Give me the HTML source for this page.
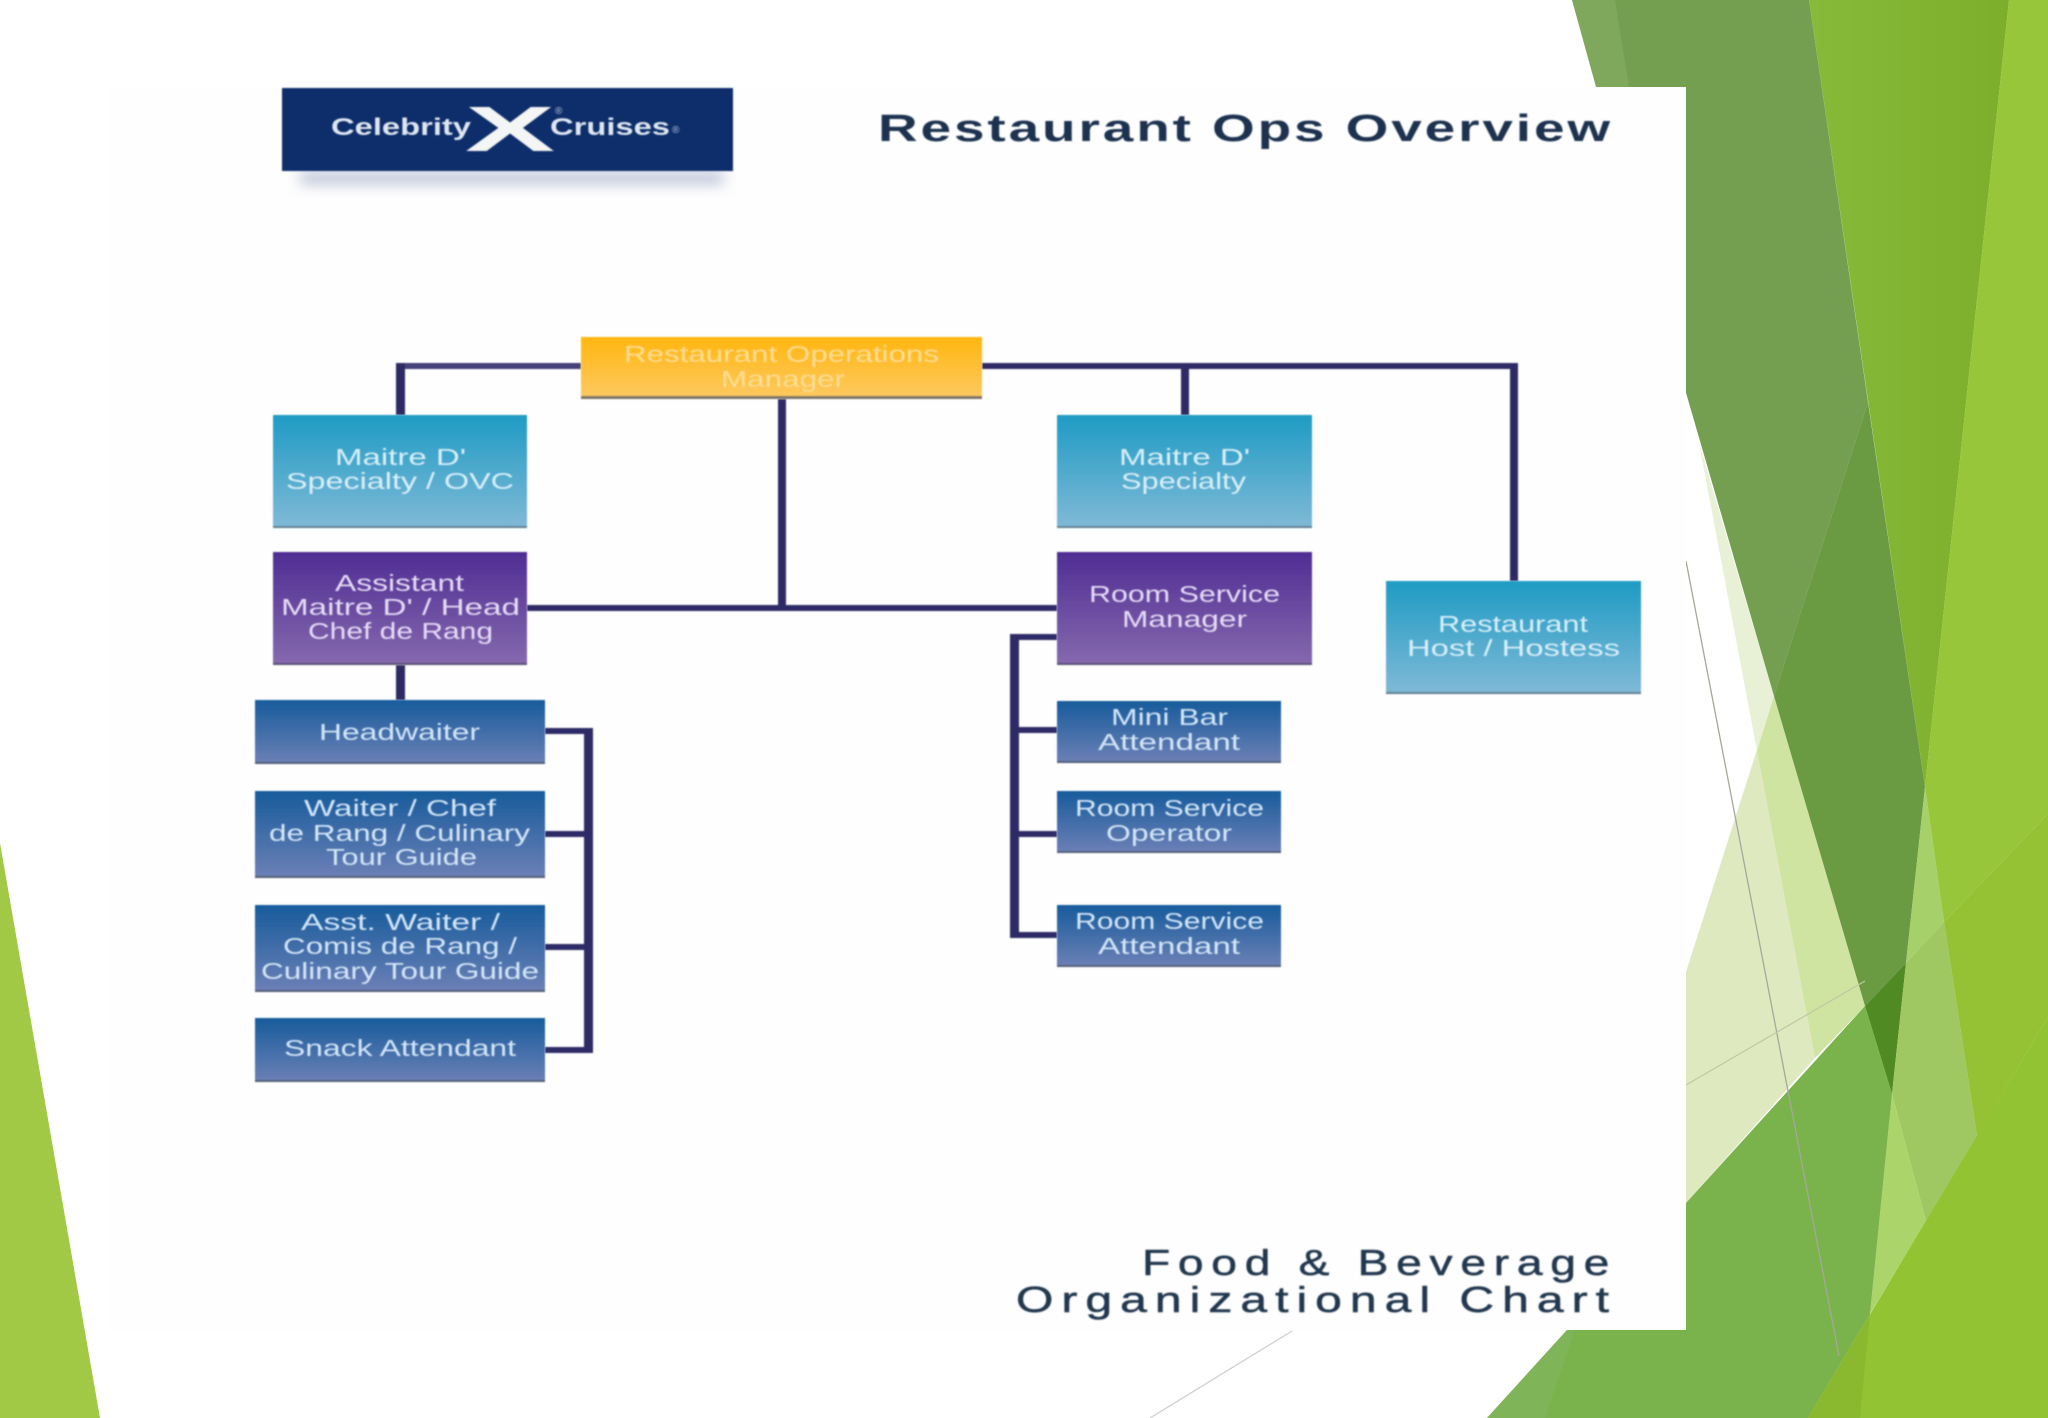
<!DOCTYPE html>
<html lang="en">
<head>
<meta charset="utf-8">
<title>Restaurant Ops Overview</title>
<style>
html,body{margin:0;padding:0;background:#fff;width:2048px;height:1418px;overflow:hidden}
svg{display:block}
text{font-family:"Liberation Sans",sans-serif;text-anchor:start}
.t{font-size:23px}
.teal{fill:#d8eff9}
.pur{fill:#e6dcf6}
.blu{fill:#d3e6f8}
.org{fill:#fedd94}
.h{font-weight:bold;fill:#1f3350;letter-spacing:2px}
.f{fill:#22384f;stroke:#22384f;stroke-width:.5px;letter-spacing:6px}
</style>
</head>
<body>
<svg xmlns="http://www.w3.org/2000/svg" width="2048" height="1418" viewBox="0 0 2048 1418">
<defs>
<linearGradient id="gt" x1="0" y1="0" x2="0" y2="1"><stop offset="0" stop-color="#1e9bc3"/><stop offset="1" stop-color="#80b9d7"/></linearGradient>
<linearGradient id="gp" x1="0" y1="0" x2="0" y2="1"><stop offset="0" stop-color="#4f2d93"/><stop offset="1" stop-color="#8569ae"/></linearGradient>
<linearGradient id="gb" x1="0" y1="0" x2="0" y2="1"><stop offset="0" stop-color="#175b9b"/><stop offset="1" stop-color="#6c80b6"/></linearGradient>
<linearGradient id="go" x1="0" y1="0" x2="0" y2="1"><stop offset="0" stop-color="#ffb60f"/><stop offset="1" stop-color="#fdc962"/></linearGradient>
<linearGradient id="gg" x1="0" y1="0" x2="1" y2="0"><stop offset="0" stop-color="#87ba3a"/><stop offset="1" stop-color="#7dae2b"/></linearGradient>
<filter id="b1" x="-5%" y="-5%" width="110%" height="110%"><feGaussianBlur stdDeviation="0.7"/></filter>
<filter id="b6" x="-10%" y="-150%" width="120%" height="400%"><feGaussianBlur stdDeviation="7"/></filter>
</defs>

<rect width="2048" height="1418" fill="#fff"/>

<!-- left wedge -->
<polygon points="0,843 100,1418 0,1418" fill="#a2c946"/>

<!-- background facets -->
<polygon points="1686,972 1757,751 1815,1058 1686,1203" fill="#dfe9c0"/>
<polygon points="1686,972 1774,696 1757,751" fill="#dfe9c0"/>
<polygon points="1699,443 1774,696 1757,751" fill="#e8f1d6"/>
<polygon points="1757,751 1774,696 1865,1006 1815,1058" fill="#d0e4a1"/>
<polygon points="1572,0 1809,0 1868,402 1774,696" fill="#749f51"/>
<polygon points="1572,0 1615,0 1629,87 1596,87" fill="#7fa85d"/>
<polygon points="1868,402 1925,787 1906,963 1865,1006 1774,696" fill="#6a9a42"/>
<polygon points="1865,1006 1906,963 1892,1094" fill="#4f8a22"/>
<polygon points="1809,0 2009,0 1925,787" fill="url(#gg)"/>
<polygon points="2009,0 2048,0 2048,814 1944,922 1925,787" fill="#98c63b"/>
<polygon points="1925,787 1944,922 1906,963" fill="#a6d06a"/>
<polygon points="1906,963 1944,922 1977,1136 1926,1221 1892,1094" fill="#a0c862"/>
<polygon points="1892,1094 1926,1221 1870,1314" fill="#abd56a"/>
<polygon points="1944,922 2048,814 2048,1017 1977,1136" fill="#94c234"/>
<polygon points="1686,1203 1865,1006 1892,1094 1870,1314 1808,1418 1487,1418 1567,1330 1686,1330" fill="#7ab24c"/>
<polygon points="1487,1418 1567,1330 1575,1330 1545,1418" fill="#80b458"/>
<polygon points="1808,1418 2048,1017 2048,1418" fill="#92c332"/>
<polygon points="1808,1418 1870,1314 1860,1418" fill="#8ab92f"/>

<!-- thin lines over background -->
<line x1="1686" y1="561" x2="1839" y2="1356" stroke="#a5a89a" stroke-width="1.3"/>
<line x1="1686" y1="1085" x2="1865" y2="981" stroke="#bfc8a0" stroke-width="1.2"/>
<line x1="1292" y1="1331" x2="1150" y2="1418" stroke="#cfcfcf" stroke-width="1.3"/>

<!-- white slide image -->
<rect x="110" y="87" width="1576" height="1243" fill="#fefefe"/>

<!-- logo -->
<rect x="300" y="172" width="424" height="12" fill="#b9c0d6" filter="url(#b6)"/>
<rect x="282" y="88" width="451" height="83" fill="#0f2f6b" filter="url(#b1)"/>
<g filter="url(#b1)">
<text x="331" y="135" font-size="24" font-weight="bold" fill="#dfe6f2" textLength="140" lengthAdjust="spacingAndGlyphs">Celebrity</text>
<text x="465" y="151" font-size="64" font-weight="bold" fill="#f4f5f5" textLength="90" lengthAdjust="spacingAndGlyphs">X</text>
<text x="550" y="135" font-size="24" font-weight="bold" fill="#dfe6f2" textLength="120" lengthAdjust="spacingAndGlyphs">Cruises</text>
<text x="555" y="114" font-size="10" fill="#b8c4dc">®</text>
<text x="672" y="133" font-size="10" fill="#b8c4dc">®</text>
</g>

<!-- titles -->
<g filter="url(#b1)">
<text class="h" x="878" y="141" font-size="38" textLength="735" lengthAdjust="spacingAndGlyphs">Restaurant Ops Overview</text>
<text class="f" x="1142" y="1275" font-size="36" textLength="475" lengthAdjust="spacingAndGlyphs">Food &amp; Beverage</text>
<text class="f" x="1016" y="1312" font-size="36" textLength="601" lengthAdjust="spacingAndGlyphs">Organizational Chart</text>
</g>

<!-- connectors -->
<g fill="#2e2a66" filter="url(#b1)">
<rect x="396" y="363" width="185" height="6" fill="#45417a"/>
<rect x="396" y="363" width="9" height="52"/>
<rect x="982" y="363" width="536" height="6"/>
<rect x="1181" y="363" width="8" height="52"/>
<rect x="1510" y="363" width="8" height="218"/>
<rect x="778" y="399" width="8" height="209"/>
<rect x="527" y="605" width="530" height="6"/>
<rect x="396" y="665" width="9" height="35"/>
<rect x="584" y="728" width="9" height="325"/>
<rect x="545" y="728" width="48" height="6"/>
<rect x="545" y="831" width="40" height="6"/>
<rect x="545" y="944" width="40" height="6"/>
<rect x="545" y="1047" width="48" height="6"/>
<rect x="1010" y="634" width="9" height="304"/>
<rect x="1010" y="634" width="47" height="6"/>
<rect x="1010" y="727" width="47" height="6"/>
<rect x="1010" y="831" width="47" height="6"/>
<rect x="1010" y="932" width="47" height="6"/>
</g>

<!-- boxes -->
<g stroke="none" filter="url(#b1)">
<rect x="581" y="337" width="401" height="62" fill="url(#go)"/><rect x="581" y="396" width="401" height="3" fill="#7a7468"/>
<rect x="273" y="415" width="254" height="113" fill="url(#gt)"/><rect x="273" y="526" width="254" height="2" fill="#5f7d8e"/>
<rect x="1057" y="415" width="255" height="113" fill="url(#gt)"/><rect x="1057" y="526" width="255" height="2" fill="#5f7d8e"/>
<rect x="1386" y="581" width="255" height="113" fill="url(#gt)"/><rect x="1386" y="692" width="255" height="2" fill="#5f7d8e"/>
<rect x="273" y="552" width="254" height="113" fill="url(#gp)"/><rect x="273" y="663" width="254" height="2" fill="#5a4f73"/>
<rect x="1057" y="552" width="255" height="113" fill="url(#gp)"/><rect x="1057" y="663" width="255" height="2" fill="#5a4f73"/>
<rect x="255" y="700" width="290" height="64" fill="url(#gb)"/><rect x="255" y="762" width="290" height="2" fill="#535e78"/>
<rect x="255" y="791" width="290" height="87" fill="url(#gb)"/><rect x="255" y="876" width="290" height="2" fill="#535e78"/>
<rect x="255" y="905" width="290" height="87" fill="url(#gb)"/><rect x="255" y="990" width="290" height="2" fill="#535e78"/>
<rect x="255" y="1018" width="290" height="64" fill="url(#gb)"/><rect x="255" y="1080" width="290" height="2" fill="#535e78"/>
<rect x="1057" y="701" width="224" height="62" fill="url(#gb)"/><rect x="1057" y="761" width="224" height="2" fill="#535e78"/>
<rect x="1057" y="791" width="224" height="62" fill="url(#gb)"/><rect x="1057" y="851" width="224" height="2" fill="#535e78"/>
<rect x="1057" y="905" width="224" height="62" fill="url(#gb)"/><rect x="1057" y="965" width="224" height="2" fill="#535e78"/>
</g>

<!-- labels -->
<g class="t" filter="url(#b1)" font-size="23">
<text class="t org" x="624" y="362" textLength="315" lengthAdjust="spacingAndGlyphs">Restaurant Operations</text>
<text class="t org" x="721" y="387" textLength="124" lengthAdjust="spacingAndGlyphs">Manager</text>

<text class="t teal" x="335" y="465" textLength="131" lengthAdjust="spacingAndGlyphs">Maitre D'</text>
<text class="t teal" x="286" y="489" textLength="228" lengthAdjust="spacingAndGlyphs">Specialty / OVC</text>
<text class="t teal" x="1119" y="465" textLength="131" lengthAdjust="spacingAndGlyphs">Maitre D'</text>
<text class="t teal" x="1121" y="489" textLength="125" lengthAdjust="spacingAndGlyphs">Specialty</text>
<text class="t teal" x="1438" y="632" textLength="150" lengthAdjust="spacingAndGlyphs">Restaurant</text>
<text class="t teal" x="1407" y="656" textLength="213" lengthAdjust="spacingAndGlyphs">Host / Hostess</text>

<text class="t pur" x="335" y="591" textLength="129" lengthAdjust="spacingAndGlyphs">Assistant</text>
<text class="t pur" x="281" y="615" textLength="239" lengthAdjust="spacingAndGlyphs">Maitre D' / Head</text>
<text class="t pur" x="308" y="639" textLength="185" lengthAdjust="spacingAndGlyphs">Chef de Rang</text>
<text class="t pur" x="1089" y="602" textLength="191" lengthAdjust="spacingAndGlyphs">Room Service</text>
<text class="t pur" x="1122" y="627" textLength="125" lengthAdjust="spacingAndGlyphs">Manager</text>

<text class="t blu" x="319" y="740" textLength="161" lengthAdjust="spacingAndGlyphs">Headwaiter</text>
<text class="t blu" x="304" y="816" textLength="192" lengthAdjust="spacingAndGlyphs">Waiter / Chef</text>
<text class="t blu" x="269" y="841" textLength="261" lengthAdjust="spacingAndGlyphs">de Rang / Culinary</text>
<text class="t blu" x="326" y="865" textLength="151" lengthAdjust="spacingAndGlyphs">Tour Guide</text>
<text class="t blu" x="301" y="930" textLength="199" lengthAdjust="spacingAndGlyphs">Asst. Waiter /</text>
<text class="t blu" x="283" y="954" textLength="234" lengthAdjust="spacingAndGlyphs">Comis de Rang /</text>
<text class="t blu" x="261" y="979" textLength="278" lengthAdjust="spacingAndGlyphs">Culinary Tour Guide</text>
<text class="t blu" x="284" y="1056" textLength="232" lengthAdjust="spacingAndGlyphs">Snack Attendant</text>

<text class="t blu" x="1111" y="725" textLength="117" lengthAdjust="spacingAndGlyphs">Mini Bar</text>
<text class="t blu" x="1098" y="750" textLength="142" lengthAdjust="spacingAndGlyphs">Attendant</text>
<text class="t blu" x="1075" y="816" textLength="189" lengthAdjust="spacingAndGlyphs">Room Service</text>
<text class="t blu" x="1106" y="841" textLength="126" lengthAdjust="spacingAndGlyphs">Operator</text>
<text class="t blu" x="1075" y="929" textLength="189" lengthAdjust="spacingAndGlyphs">Room Service</text>
<text class="t blu" x="1098" y="954" textLength="142" lengthAdjust="spacingAndGlyphs">Attendant</text>
</g>
</svg>
</body>
</html>
